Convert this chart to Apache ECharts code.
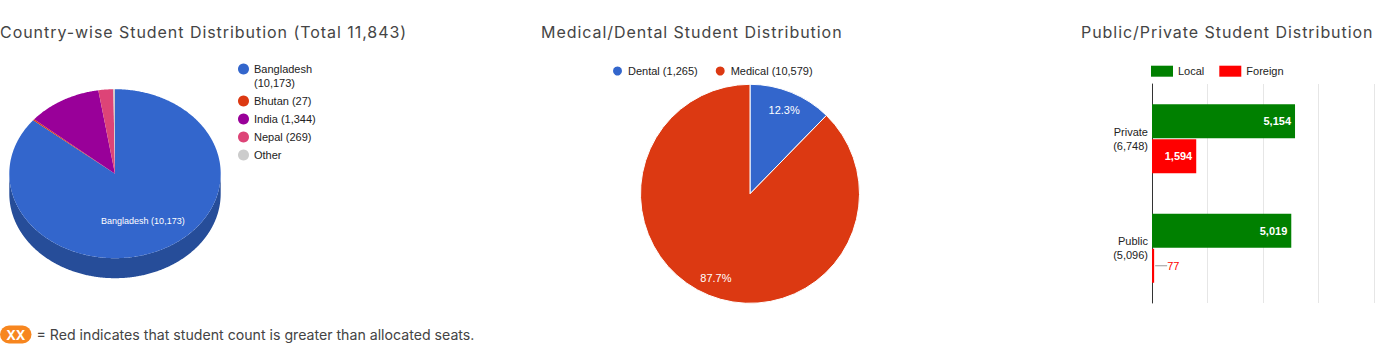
<!DOCTYPE html>
<html><head><meta charset="utf-8">
<script src="https://cdn.jsdelivr.net/npm/echarts@6/dist/echarts.min.js"></script>
<style>html,body{margin:0;padding:0;background:#fff;overflow:hidden}#c{width:1388px;height:358px}
#c text[fill="#454545"], #c text[fill="rgb(69,69,69)"]{letter-spacing:0.95px}</style>
</head><body><div id="c"></div>
<script>
// ---- data ----
const countryNames = ['Bangladesh', 'Bhutan', 'India', 'Nepal', 'Other'];
const countryValues = [10173, 27, 1344, 269, 30];
const programNames = ['Dental', 'Medical'];
const programCounts = [1265, 10579];      // numbers shown in legend
const programShares = [12.3, 87.7];       // slice percentages shown on pie
const sectorNames = ['Private', 'Public'];
const localValues = [5154, 5019];
const foreignValues = [1594, 77];
const xTicks = { min: 0, max: 8000, interval: 2000 };

// ---- styles ----
const countryColors = ['#3366cc', '#dc3912', '#990099', '#dd4477', '#cccccc'];
const programColors = ['#3366cc', '#dc3912'];
const LABEL_FONT = 'Arial, "Liberation Sans", sans-serif';
const TITLE_FONT = 'Inter, "Noto Sans", sans-serif';

const fmt = v => Number(v).toLocaleString('en-US');
const countryTotal = countryValues.reduce((a, b) => a + b, 0);

// ---- 3D pie (custom series) ----
const P3 = { cx: 115, cy: 173.7, rx: 105.7, ry: 84.5, depth: 20 };
function ept(a, dy) { return [P3.cx + P3.rx * Math.sin(a), P3.cy - P3.ry * Math.cos(a) + (dy || 0)]; }
function arcPts(a0, a1, dy) {
  const pts = [];
  const n = Math.max(1, Math.ceil(Math.abs(a1 - a0) / (Math.PI / 360)));
  for (let i = 0; i <= n; i++) pts.push(ept(a0 + (a1 - a0) * i / n, dy));
  return pts;
}
function darken(c, k) {
  const p = echarts.color.parse(c);
  return 'rgb(' + Math.round(p[0] * k) + ',' + Math.round(p[1] * k) + ',' + Math.round(p[2] * k) + ')';
}
function render3d(params, api) {
  const start = api.value(0), val = api.value(1), total = api.value(2);
  const a0 = start / total * 2 * Math.PI, a1 = (start + val) / total * 2 * Math.PI;
  const color = api.visual('color');
  const children = [];
  const s0 = Math.max(a0, Math.PI / 2), s1 = Math.min(a1, 3 * Math.PI / 2);
  if (s1 > s0) {
    children.push({ type: 'polygon', shape: { points: arcPts(s0, s1, 0).concat(arcPts(s1, s0, P3.depth)) },
      style: { fill: darken(color, 0.75) } });
  }
  children.push({ type: 'polygon', shape: { points: [[P3.cx, P3.cy]].concat(arcPts(a0, a1, 0)) }, style: { fill: color } });
  if (val / total > 0.3) {
    const m = (a0 + a1) / 2, t = 0.615;
    children.push({ type: 'text', z2: 10, style: {
      text: params.seriesName + ' (' + fmt(val) + ')',
      x: P3.cx + t * P3.rx * Math.sin(m), y: P3.cy - t * P3.ry * Math.cos(m),
      align: 'center', verticalAlign: 'middle', fill: '#fff', fontSize: 9, fontFamily: LABEL_FONT } });
  }
  return { type: 'group', children };
}
let cum = 0;
const pie3dSeries = countryNames.map((n, i) => {
  const s = { type: 'custom', name: n, coordinateSystem: 'none', silent: true,
    itemStyle: { color: countryColors[i] }, renderItem: render3d,
    data: [[cum, countryValues[i], countryTotal]] };
  cum += countryValues[i];
  return s;
});

const chart = echarts.init(document.getElementById('c'), null, { renderer: 'svg' });
const titleStyle = { fontSize: 16, fontWeight: 'normal', color: '#454545', fontFamily: TITLE_FONT, lineHeight: 20 };

chart.setOption({
  animation: false,
  title: [
    { text: 'Country-wise Student Distribution (Total ' + fmt(countryTotal) + ')', left: 0, top: 22, padding: 0, textStyle: titleStyle },
    { text: 'Medical/Dental Student Distribution', left: 541, top: 22, padding: 0, textStyle: titleStyle },
    { text: 'Public/Private Student Distribution', left: 1081, top: 22, padding: 0, textStyle: titleStyle }
  ],
  legend: [
    { orient: 'vertical', left: 238, top: 48, padding: 0, itemGap: 4, itemWidth: 11, itemHeight: 11, icon: 'circle',
      data: countryNames,
      formatter: name => {
        const i = countryNames.indexOf(name);
        if (name === 'Other') return name;
        const s = name + ' (' + fmt(countryValues[i]) + ')';
        // long entries wrap; leading blank line keeps the first line beside the marker
        return s.length > 16 ? '\n' + name + '\n(' + fmt(countryValues[i]) + ')' : s;
      },
      textStyle: { fontSize: 11, lineHeight: 14, color: '#222', fontFamily: LABEL_FONT } },
    { orient: 'horizontal', left: 611, top: 64, padding: 0, itemGap: 16, itemWidth: 11, itemHeight: 11, icon: 'circle',
      data: programNames,
      formatter: name => name + ' (' + fmt(programCounts[programNames.indexOf(name)]) + ')',
      textStyle: { fontSize: 11, lineHeight: 14, color: '#222', fontFamily: LABEL_FONT } },
    { orient: 'horizontal', left: 1151, top: 64.2, padding: 0, itemGap: 15, itemWidth: 22, itemHeight: 11, icon: 'rect',
      data: ['Local', 'Foreign'],
      textStyle: { fontSize: 11, lineHeight: 14, color: '#222', fontFamily: LABEL_FONT } }
  ],
  grid: [{ left: 1152, top: 84, width: 222, height: 219, containLabel: false }],
  xAxis: [{ type: 'value', gridIndex: 0, min: xTicks.min, max: xTicks.max, interval: xTicks.interval,
    axisLabel: { show: false }, axisLine: { show: false }, axisTick: { show: false },
    splitLine: { show: true, lineStyle: { color: '#e6e6e6', width: 1 } } }],
  yAxis: [{ type: 'category', gridIndex: 0, data: sectorNames, inverse: true,
    axisLine: { show: true, lineStyle: { color: '#333', width: 1 } }, axisTick: { show: false },
    axisLabel: { margin: 4, fontSize: 11, lineHeight: 14, color: '#222', fontFamily: LABEL_FONT, align: 'right',
      formatter: (v, i) => v + '\n(' + fmt(localValues[i] + foreignValues[i]) + ')' } }],
  series: pie3dSeries.concat([
    { type: 'pie', name: 'program', center: [750, 193.8], radius: 109.5, startAngle: 90, clockwise: true,
      color: programColors, silent: true,
      itemStyle: { borderColor: '#fff', borderWidth: 1 },
      label: { show: false }, labelLine: { show: false },
      data: programNames.map((n, i) => ({ name: n, value: programShares[i] })) },
    { type: 'pie', name: 'programLabels', center: [750, 193.8], radius: 175, startAngle: 90, clockwise: true,
      silent: true, legendHoverLink: false, percentPrecision: 1,
      itemStyle: { color: 'rgba(0,0,0,0)' },
      label: { show: true, position: 'inside', formatter: '{d}%', color: '#fff', fontSize: 11, fontFamily: LABEL_FONT },
      labelLine: { show: false }, emphasis: { disabled: true },
      data: programNames.map((n, i) => ({ name: n, value: programShares[i] })) },
    { type: 'bar', name: 'Local', xAxisIndex: 0, yAxisIndex: 0, data: localValues, barWidth: 34, barGap: '3%',
      itemStyle: { color: '#008000' },
      label: { show: true, position: 'insideRight', distance: 4, color: '#fff', fontWeight: 'bold', fontSize: 11,
        fontFamily: LABEL_FONT, formatter: p => fmt(p.value) } },
    { type: 'bar', name: 'Foreign', xAxisIndex: 0, yAxisIndex: 0, barWidth: 34, barGap: '3%',
      itemStyle: { color: '#ff0000' },
      label: { show: true, position: 'insideRight', distance: 4, color: '#fff', fontWeight: 'bold', fontSize: 11,
        fontFamily: LABEL_FONT, formatter: p => fmt(p.value) },
      data: foreignValues.map(v => v < 500 ? {
        value: v,
        label: { position: 'right', distance: 1, formatter: '{ln|}{v|' + fmt(v) + '}',
          rich: { ln: { width: 12, height: 1, backgroundColor: '#999' },
                  v: { color: '#ff0000', fontSize: 11, fontWeight: 'normal', fontFamily: LABEL_FONT } } }
      } : v) }
  ]),
  graphic: [
    { type: 'rect', left: 0, top: 325.5, shape: { width: 31.5, height: 18, r: 9 }, style: { fill: '#f7861f' } },
    { type: 'text', x: 15.75, y: 334.5, style: { text: 'XX', fill: '#fff', fontSize: 13, fontWeight: 'bold', fontFamily: TITLE_FONT,
      align: 'center', verticalAlign: 'middle' } },
    { type: 'text', x: 36.5, y: 334.5, style: { text: '= Red indicates that student count is greater than allocated seats.',
      fill: '#444', fontSize: 14.15, fontFamily: TITLE_FONT, align: 'left', verticalAlign: 'middle' } }
  ]
});
</script></body></html>
